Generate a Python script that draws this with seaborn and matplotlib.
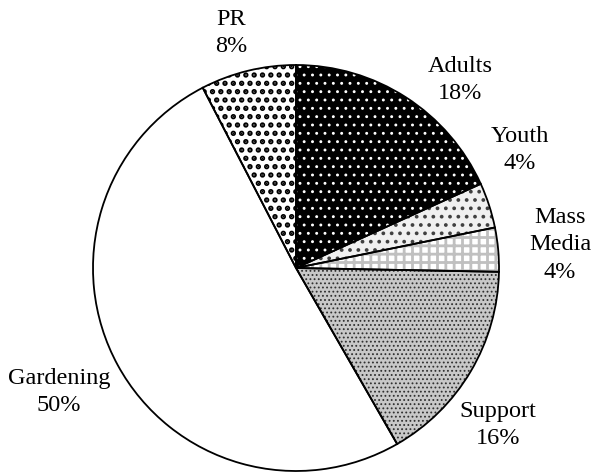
import matplotlib
matplotlib.use("Agg")
import matplotlib.pyplot as plt
import seaborn as sns

# ---- data ----
categories = ["Adults", "Youth", "Mass\nMedia", "Support", "Gardening", "PR"]
values = [18.2, 3.6, 3.5, 16.4, 50.7, 7.6]
pct_labels = ["18%", "4%", "4%", "16%", "50%", "8%"]

# ---- styles ----
face_colors = ["#000000", "#f0f0f0", "#ffffff", "#c8c8c8", "#ffffff", "#ffffff"]
hatch_colors = ["#ffffff", "#404040", "#c0c0c0", "#303030", "#ffffff", "#000000"]
hatches = ["..", "..", "++", "....", "", ".."]
hatch_lw = [0.9, 1.5, 2.0, 0.8, 1.0, 2.6]
# label block centres in pixel coords (x, y from top)
label_pos = [(460, 80), (520, 150), (560, 245), (498, 425), (59, 392), (231, 33)]

W, H = 593, 472
sns.set_theme(style="white")
plt.rcParams["font.family"] = ["Liberation Serif", "DejaVu Serif"]

fig = plt.figure(figsize=(W / 100, H / 100), dpi=100)
ax = fig.add_axes([0, 0, 1, 1])
ax.set_xlim(0, W)
ax.set_ylim(0, H)
ax.set_aspect("equal")
ax.axis("off")

center = (296, H - 268)
radius = 203

wedges, _ = ax.pie(values, startangle=90, counterclock=False,
                   center=center, radius=radius, frame=True,
                   colors=face_colors)
for w, hc, h, lw in zip(wedges, hatch_colors, hatches, hatch_lw):
    w.set_edgecolor(hc)
    w.set_linewidth(0)
    w.set_hatch(h)
    if hasattr(w, "set_hatch_linewidth"):
        w.set_hatch_linewidth(lw)

outline, _ = ax.pie(values, startangle=90, counterclock=False,
                    center=center, radius=radius, frame=True,
                    wedgeprops=dict(facecolor="none", edgecolor="black", linewidth=1.3))

ax.set_xlim(0, W)
ax.set_ylim(0, H)
ax.axis("off")

for cat, pct, (x, y) in zip(categories, pct_labels, label_pos):
    ax.text(x, H - y, f"{cat}\n{pct}", ha="center", va="center",
            multialignment="center", fontsize=17.5, color="black",
            linespacing=1.4)

fig.savefig("out.png", dpi=100)
